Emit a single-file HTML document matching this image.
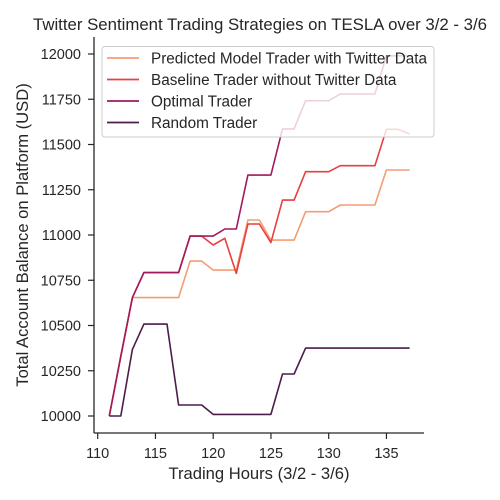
<!DOCTYPE html>
<html><head><meta charset="utf-8"><style>
body{margin:0;background:#fff;}
svg{display:block;font-family:"Liberation Sans",Arial,sans-serif;}
</style></head><body>
<svg id="chart" width="500" height="500">
<text x="260" y="30" text-anchor="middle" font-size="16.8" fill="#262626">Twitter Sentiment Trading Strategies on TESLA over 3/2 - 3/6</text>
<g id="axes"></g>
<g id="series"></g>
<g id="legend"></g>
<text x="259" y="479" text-anchor="middle" font-size="16.6" fill="#262626">Trading Hours (3/2 - 3/6)</text>
<text transform="translate(28,235) rotate(-90)" text-anchor="middle" font-size="16.6" fill="#262626">Total Account Balance on Platform (USD)</text>
</svg>
<script>
const hours = [111,112,113,114,115,116,117,118,119,120,121,122,123,124,125,126,127,128,129,130,131,132,133,134,135,136,137];
const predicted = [10000,10330,10654,10654,10654,10654,10654,10856,10856,10806,10806,10806,11083,11083,10972,10972,10972,11129,11129,11129,11166,11166,11166,11166,11359,11359,11359];
const baseline = [10000,10330,10654,10792,10792,10792,10792,10994,10994,10945,10982,10788,11061,11061,10958,11193,11193,11350,11350,11350,11383,11383,11383,11383,11584,11584,11558];
const optimal = [10000,10330,10654,10792,10792,10792,10792,10994,10994,10994,11033,11033,11331,11331,11331,11586,11586,11742,11742,11742,11779,11779,11779,11779,11990,11990,11990];
const random = [10000,10000,10368,10508,10508,10508,10061,10061,10061,10009,10009,10009,10009,10009,10009,10232,10232,10375,10375,10375,10375,10375,10375,10375,10375,10375,10375];
const xTicks = [110,115,120,125,130,135];
const yTicks = [10000,10250,10500,10750,11000,11250,11500,11750,12000];
const seriesNames = ["Predicted Model Trader with Twitter Data","Baseline Trader without Twitter Data","Optimal Trader","Random Trader"];
const seriesColors = ["#f69c73","#e83f3f","#a11a5b","#4c1d4b"];

const NS="http://www.w3.org/2000/svg";
function xs(h){return 97.7+(h-110)*11.55;}
function ys(v){return 416-(v-10000)*0.181;}
function mk(tag,attrs,parent){const e=document.createElementNS(NS,tag);for(const k in attrs)e.setAttribute(k,attrs[k]);parent.appendChild(e);return e;}
const axes=document.getElementById('axes');
const ax=mk('line',{x1:94,y1:433,x2:424,y2:433,stroke:'#262626','stroke-width':1.3},axes);


const ay=mk('line',{x1:94,y1:37,x2:94,y2:433,stroke:'#262626','stroke-width':1.3},axes);


xTicks.forEach(t=>{
  const l=mk('line',{x1:xs(t),y1:433,x2:xs(t),y2:439,stroke:'#262626','stroke-width':1.2},axes);
  
  
  const tx=mk('text',{x:xs(t),y:458,'text-anchor':'middle','font-size':14.5,fill:'#262626'},axes);
  tx.textContent=t;
  
  
});
yTicks.forEach(t=>{
  const l=mk('line',{x1:88,y1:ys(t),x2:94,y2:ys(t),stroke:'#262626','stroke-width':1.2},axes);
  
  
  const tx=mk('text',{x:81,y:ys(t)+5,'text-anchor':'end','font-size':14.5,fill:'#262626'},axes);
  tx.textContent=t;
  
  
});
const sg=document.getElementById('series');
[predicted,baseline,optimal,random].forEach((vals,i)=>{
  const pts=hours.map((h,j)=>xs(h).toFixed(1)+','+ys(vals[j]).toFixed(1)).join(' ');
  const p=mk('polyline',{points:pts,fill:'none',stroke:seriesColors[i],'stroke-width':1.6,'stroke-linejoin':'round'},sg);
  
  
});
const lg=document.getElementById('legend');
const box=mk('rect',{x:102,y:46.5,width:332,height:90.5,rx:3,fill:'rgba(255,255,255,0.8)',stroke:'#cccccc','stroke-width':1},lg);


seriesNames.forEach((n,i)=>{
  const y=58+i*21.5;
  const l=mk('line',{x1:107,y1:y,x2:139,y2:y,stroke:seriesColors[i],'stroke-width':1.8},lg);
  
  
  const t=mk('text',{x:151,y:y+5.5,'font-size':15.3,fill:'#262626'},lg);
  t.textContent=n;
  
  
});
</script>
</body></html>
